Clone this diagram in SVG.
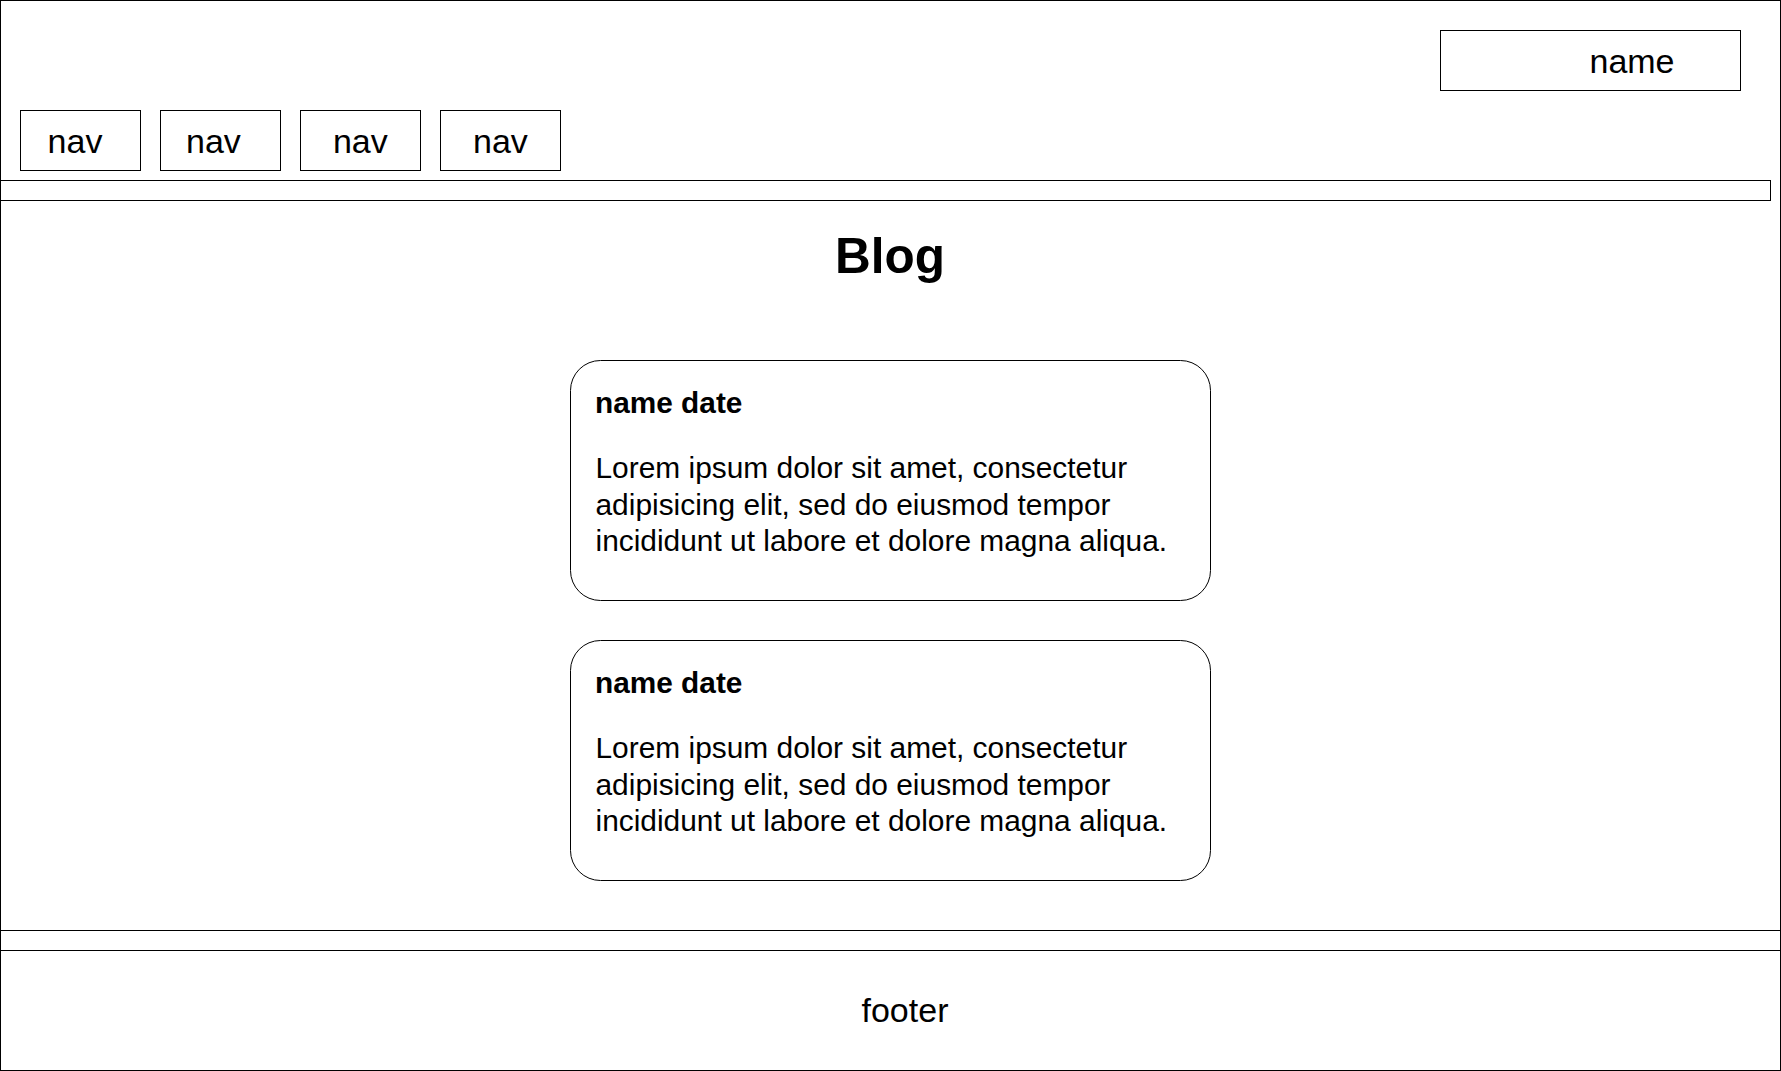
<svg xmlns="http://www.w3.org/2000/svg" width="1781" height="1071" viewBox="0 0 1781 1071">
  <style>
    .box { fill: #ffffff; stroke: #000000; stroke-width: 1; }
    .card { fill: #ffffff; stroke: #000000; stroke-width: 1; }
    .lbl { font-family: "Liberation Sans", Arial, sans-serif; font-size: 34px; fill: #000000; text-anchor: middle; }
    .title { font-family: "Liberation Sans", Arial, sans-serif; font-size: 49.5px; font-weight: bold; fill: #000000; text-anchor: middle; }
    .meta { font-family: "Liberation Sans", Arial, sans-serif; font-size: 29.8px; font-weight: bold; fill: #000000; }
    .body { font-family: "Liberation Sans", Arial, sans-serif; font-size: 29.9px; fill: #000000; }
  </style>

  <!-- page frame -->
  <g id="page">
    <rect class="box" x="0.5" y="0.5" width="1780" height="1070"/>
  </g>

  <!-- header -->
  <g id="user-name">
    <rect class="box" x="1440.5" y="30.5" width="300" height="60"/>
    <text class="lbl" x="1632" y="72.7">name</text>
  </g>
  <g id="nav-1">
    <rect class="box" x="20.5" y="110.5" width="120" height="60"/>
    <text class="lbl" x="75" y="152.7">nav</text>
  </g>
  <g id="nav-2">
    <rect class="box" x="160.5" y="110.5" width="120" height="60"/>
    <text class="lbl" x="213.4" y="152.7">nav</text>
  </g>
  <g id="nav-3">
    <rect class="box" x="300.5" y="110.5" width="120" height="60"/>
    <text class="lbl" x="360.3" y="152.7">nav</text>
  </g>
  <g id="nav-4">
    <rect class="box" x="440.5" y="110.5" width="120" height="60"/>
    <text class="lbl" x="500.4" y="152.7">nav</text>
  </g>
  <g id="header-divider">
    <rect class="box" x="0.5" y="180.5" width="1770" height="20"/>
  </g>

  <!-- content -->
  <g id="blog-title">
    <text class="title" x="890" y="272.7">Blog</text>
  </g>
  <g id="post-1">
    <rect class="card" x="570.5" y="360.5" width="640" height="240" rx="30" ry="30"/>
    <text class="meta" x="595" y="412.5">name date</text>
    <text class="body" x="595.5" y="478.3">Lorem ipsum dolor sit amet, consectetur</text>
    <text class="body" x="595.5" y="514.6">adipisicing elit, sed do eiusmod tempor</text>
    <text class="body" x="595.5" y="550.9">incididunt ut labore et dolore magna aliqua.</text>
  </g>
  <g id="post-2">
    <rect class="card" x="570.5" y="640.5" width="640" height="240" rx="30" ry="30"/>
    <text class="meta" x="595" y="692.8">name date</text>
    <text class="body" x="595.5" y="758.3">Lorem ipsum dolor sit amet, consectetur</text>
    <text class="body" x="595.5" y="794.6">adipisicing elit, sed do eiusmod tempor</text>
    <text class="body" x="595.5" y="830.9">incididunt ut labore et dolore magna aliqua.</text>
  </g>

  <!-- footer -->
  <g id="footer-divider">
    <rect class="box" x="0.5" y="930.5" width="1780" height="20"/>
  </g>
  <g id="footer">
    <rect class="box" x="0.5" y="950.5" width="1780" height="120"/>
    <text class="lbl" x="905" y="1021.5">footer</text>
  </g>

  <!-- no connectors in this layout -->
  <g id="connectors"/>
</svg>
